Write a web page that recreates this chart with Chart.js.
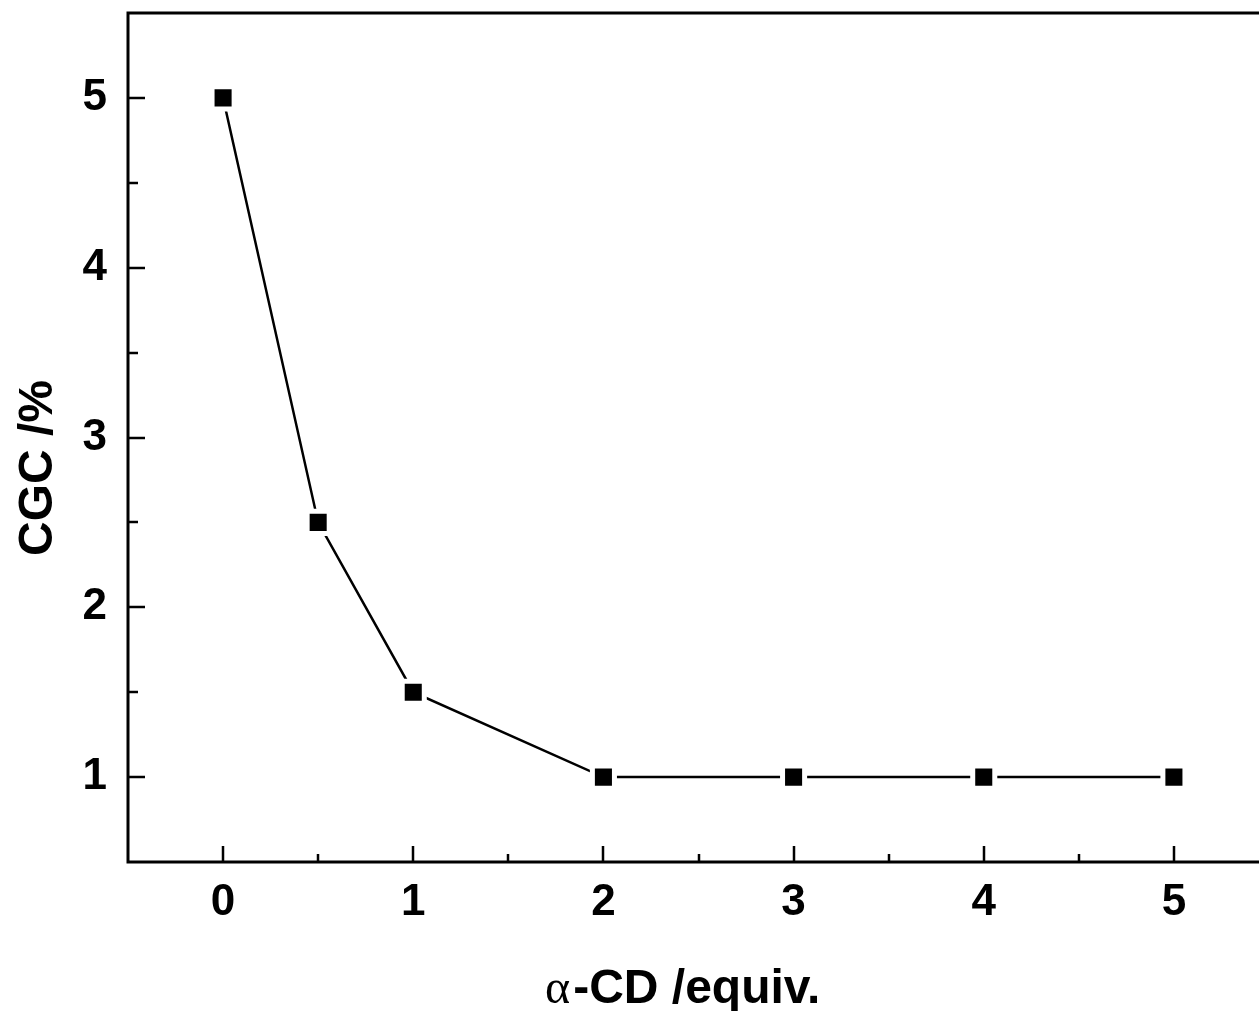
<!DOCTYPE html>
<html>
<head>
<meta charset="utf-8">
<script src="https://cdn.jsdelivr.net/npm/chart.js@4.4.1/dist/chart.umd.min.js"></script>
<style>
  html,body{margin:0;padding:0;background:#fff;overflow:hidden;}
  #wrap{width:1259px;height:1011px;overflow:hidden;position:relative;}
  #box{width:1280px;height:1011px;position:absolute;left:0;top:0;}
</style>
</head>
<body>
<div id="wrap"><div id="box"><canvas id="c"></canvas></div></div>
<script>
// data
const equiv = [0, 0.5, 1, 2, 3, 4, 5];
const cgc = [5, 2.5, 1.5, 1, 1, 1, 1];
const xTicks = [0, 1, 2, 3, 4, 5];
const xMinor = [0.5, 1.5, 2.5, 3.5, 4.5];
const yTicks = [1, 2, 3, 4, 5];
const yMinor = [1.5, 2.5, 3.5, 4.5];

const FONT = "'Liberation Sans', Arial, sans-serif";

// frame + inward ticks + axis titles
const frame = {
  id: 'frame',
  beforeDatasetsDraw(chart){
    const {ctx, chartArea:a, scales:{x, y}} = chart;
    ctx.save();
    ctx.strokeStyle = '#000';
    ctx.lineWidth = 3;
    ctx.lineCap = 'square';
    ctx.beginPath();
    ctx.moveTo(a.right, a.top); ctx.lineTo(a.left, a.top);
    ctx.lineTo(a.left, a.bottom); ctx.lineTo(a.right, a.bottom);
    ctx.stroke();
    ctx.lineCap = 'butt';
    ctx.lineWidth = 2.5;
    ctx.beginPath();
    xTicks.forEach(v=>{ const px = Math.round(x.getPixelForValue(v)); ctx.moveTo(px, a.bottom); ctx.lineTo(px, a.bottom-16); });
    xMinor.forEach(v=>{ const px = Math.round(x.getPixelForValue(v)); ctx.moveTo(px, a.bottom); ctx.lineTo(px, a.bottom-8); });
    yTicks.forEach(v=>{ const py = Math.round(y.getPixelForValue(v)); ctx.moveTo(a.left, py); ctx.lineTo(a.left+17, py); });
    yMinor.forEach(v=>{ const py = Math.round(y.getPixelForValue(v)); ctx.moveTo(a.left, py); ctx.lineTo(a.left+10, py); });
    ctx.stroke();
    ctx.restore();
  },
  afterDraw(chart){
    const {ctx} = chart;
    ctx.save();
    ctx.fillStyle = '#000';
    ctx.textBaseline = 'alphabetic';
    // x title: greek alpha in serif, rest bold sans
    ctx.textAlign = 'left';
    ctx.font = "48px 'Liberation Serif', 'Times New Roman', serif";
    const alpha = '\u03b1';
    ctx.fillText(alpha, 545, 1003);
    const aw = ctx.measureText(alpha).width;
    ctx.font = 'bold 48px ' + FONT;
    ctx.fillText('-CD /equiv.', 545 + aw + 3, 1003);
    // y title
    ctx.translate(52, 468);
    ctx.rotate(-Math.PI/2);
    ctx.textAlign = 'center';
    ctx.fillText('CGC /%', 0, 0);
    ctx.restore();
  }
};

new Chart(document.getElementById('c'), {
  type: 'scatter',
  data: {
    datasets: [{
      data: equiv.map((v,i)=>({x:v, y:cgc[i]})),
      showLine: true,
      borderColor: '#000',
      borderWidth: 2.5,
      pointStyle: 'rect',
      pointRadius: 15.6,
      pointHoverRadius: 15.6,
      pointBackgroundColor: '#000',
      pointBorderColor: '#fff',
      pointBorderWidth: 5,
      pointHoverBorderWidth: 5
    }]
  },
  options: {
    responsive: true,
    maintainAspectRatio: false,
    animation: false,
    events: [],
    layout: { autoPadding: false, padding: { top: 13, right: 11, left: 0, bottom: 0 } },
    plugins: { legend: {display:false}, tooltip: {enabled:false} },
    scales: {
      x: {
        type: 'linear', min: -0.5, max: 5.5,
        grid: { display: false }, border: { display: false },
        afterBuildTicks: s => { s.ticks = xTicks.map(v=>({value:v})); },
        afterFit: s => { s.height = 149; s.paddingLeft = 0; s.paddingRight = 0; },
        ticks: { color:'#000', padding: 6, maxRotation: 0, font: { family: FONT, size: 44, weight: 'bold' } }
      },
      y: {
        type: 'linear', min: 0.5, max: 5.5,
        grid: { display: false }, border: { display: false },
        afterBuildTicks: s => { s.ticks = yTicks.map(v=>({value:v})); },
        afterFit: s => { s.width = 128; s.paddingTop = 0; s.paddingBottom = 0; },
        ticks: { color:'#000', padding: 13, font: { family: FONT, size: 44, weight: 'bold' } }
      }
    }
  },
  plugins: [frame]
});
</script>
</body>
</html>
